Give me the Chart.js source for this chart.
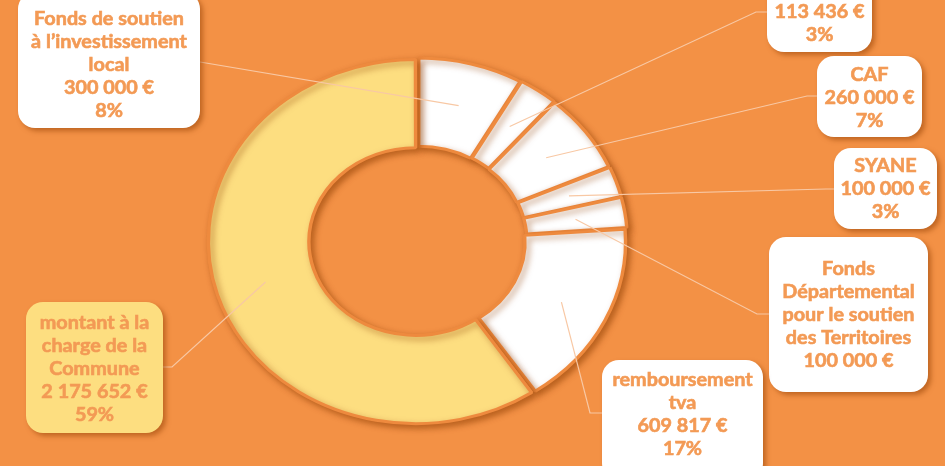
<!DOCTYPE html>
<html>
<head>
<meta charset="utf-8">
<script src="https://cdn.jsdelivr.net/npm/chart.js@4"></script>
<style>
  html, body { margin: 0; padding: 0; background: #F39145; }
  #wrap { width: 945px; height: 466px; }
</style>
</head>
<body>
<div id="wrap"><canvas id="myChart" width="945" height="466"></canvas></div>
<script>
// data block
const categories = [
    ['Fonds de soutien', 'à l’investissement', 'local'],
    [],
    ['CAF'],
    ['SYANE'],
    ['Fonds', 'Départemental', 'pour le soutien', 'des Territoires'],
    ['remboursement', 'tva'],
    ['montant à la', 'charge de la', 'Commune']
];
const amounts = [300000, 113436, 260000, 100000, 100000, 609817, 2175652];
const amountLabels = ['300 000 €', '113 436 €', '260 000 €', '100 000 €', '100 000 €', '609 817 €', '2 175 652 €'];
const percentLabels = ['8%', '3%', '7%', '3%', '', '17%', '59%'];

// look
const bg = '#F39145';
const txtColor = '#F39A55';
const yellow = '#FDDE80';
const stretch = 1.14;   // ring is drawn as a wide ellipse
const textStretch = 1.1;

// label boxes: rect, first text line y, anchor on the box, elbow
const boxes = [
    {x: 18,  y: -8,  w: 182, h: 136, ty: 19,  a: [200, 62],  e: null},
    {x: 767, y: -40, w: 105, h: 92,  ty: 12,  a: [767, 12],  e: [756, 12]},
    {x: 817, y: 56,  w: 105, h: 81,  ty: 75,  a: [817, 96],  e: [807, 96]},
    {x: 834, y: 148, w: 103, h: 81,  ty: 166, a: [834, 189], e: [826, 189]},
    {x: 769, y: 237, w: 159, h: 155, ty: 269, a: [769, 314], e: [757, 314]},
    {x: 602, y: 360, w: 161, h: 120, ty: 380, a: [602, 413], e: [590, 413]},
    {x: 26,  y: 302, w: 137, h: 131, ty: 323, a: [163, 367], e: [172, 367]}
];

function roundRect(ctx, x, y, w, h, r) {
    ctx.beginPath();
    ctx.moveTo(x + r, y);
    ctx.lineTo(x + w - r, y);
    ctx.arcTo(x + w, y, x + w, y + r, r);
    ctx.lineTo(x + w, y + h - r);
    ctx.arcTo(x + w, y + h, x + w - r, y + h, r);
    ctx.lineTo(x + r, y + h);
    ctx.arcTo(x, y + h, x, y + h - r, r);
    ctx.lineTo(x, y + r);
    ctx.arcTo(x, y, x + r, y, r);
    ctx.closePath();
}

// background + stretch of the ring
const ringStretch = {
    id: 'ringStretch',
    beforeDraw(chart) {
        const {ctx, width, height} = chart;
        ctx.save();
        ctx.fillStyle = bg;
        ctx.fillRect(0, 0, width, height);
        ctx.restore();
    },
    beforeDatasetsDraw(chart) {
        const ctx = chart.ctx;
        const cx = chart.getDatasetMeta(0).data[0].x;
        ctx.save();
        ctx.translate(cx, 0);
        ctx.scale(stretch, 1);
        ctx.translate(-cx, 0);
        ctx.shadowColor = 'rgba(140, 60, 0, 0.55)';
        ctx.shadowBlur = 6;
        ctx.shadowOffsetX = 3;
        ctx.shadowOffsetY = 3;
    },
    afterDatasetsDraw(chart) {
        chart.ctx.restore();
    }
};

// callout boxes with leader lines
const callouts = {
    id: 'callouts',
    afterDraw(chart) {
        const ctx = chart.ctx;
        const arcs = chart.getDatasetMeta(0).data;
        const cx = arcs[0].x;
        ctx.save();
        // leader lines
        ctx.strokeStyle = '#F8C8A4';
        ctx.lineWidth = 1.2;
        arcs.forEach((arc, i) => {
            const p = arc.getCenterPoint();
            const px = cx + (p.x - cx) * stretch;
            const b = boxes[i];
            ctx.beginPath();
            ctx.moveTo(b.a[0], b.a[1]);
            if (b.e) ctx.lineTo(b.e[0], b.e[1]);
            ctx.lineTo(px, p.y);
            ctx.stroke();
        });
        // boxes
        arcs.forEach((arc, i) => {
            const b = boxes[i];
            ctx.save();
            ctx.shadowColor = 'rgba(150, 65, 5, 0.55)';
            ctx.shadowBlur = 5;
            ctx.shadowOffsetX = 3;
            ctx.shadowOffsetY = 3;
            ctx.fillStyle = i === 6 ? yellow : '#FFFFFF';
            roundRect(ctx, b.x, b.y, b.w, b.h, 17);
            ctx.fill();
            ctx.restore();

            const lines = categories[i].concat([amountLabels[i]]);
            if (percentLabels[i]) lines.push(percentLabels[i]);
            ctx.fillStyle = txtColor;
            ctx.strokeStyle = txtColor;
            ctx.lineWidth = 0.6;
            ctx.font = 'bold 18px Lato';
            ctx.textAlign = 'center';
            ctx.textBaseline = 'middle';
            lines.forEach((t, k) => {
                ctx.save();
                ctx.translate(b.x + b.w / 2, b.ty + k * 23);
                ctx.scale(textStretch, 1);
                ctx.fillText(t, 0, 0);
                ctx.strokeText(t, 0, 0);
                ctx.restore();
            });
        });
        ctx.restore();
    }
};

// config block
const config = {
    type: 'doughnut',
    data: {
        labels: categories,
        datasets: [{
            data: amounts,
            backgroundColor: ['#FFFFFF', '#FFFFFF', '#FFFFFF', '#FFFFFF', '#FFFFFF', '#FFFFFF', yellow],
            borderColor: '#EE8A3E',
            borderWidth: 3,
            offset: 8,
            radius: 180,
            clip: false
        }]
    },
    options: {
        responsive: false,
        animation: false,
        cutout: '51%',
        layout: {
            padding: {left: 0, right: 109, top: 16, bottom: 0}
        },
        plugins: {
            legend: {display: false},
            tooltip: {enabled: false}
        }
    },
    plugins: [ringStretch, callouts]
};

// init render block
const myChart = new Chart(
    document.getElementById('myChart'),
    config
);
</script>
</body>
</html>
